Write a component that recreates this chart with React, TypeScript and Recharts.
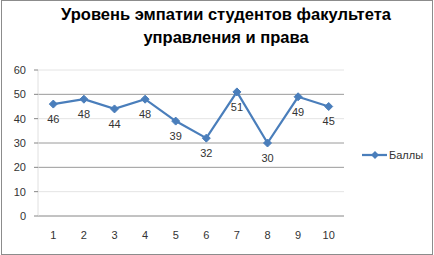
import { LineChart, Line, XAxis, YAxis, ReferenceLine, LabelList } from "recharts";

const categories = ["1", "2", "3", "4", "5", "6", "7", "8", "9", "10"];
const scores = [46, 48, 44, 48, 39, 32, 51, 30, 49, 45];
const yTicks = [0, 10, 20, 30, 40, 50, 60];
const seriesName = "Баллы";
const titleLines = ["Уровень эмпатии студентов факультета", "управления и права"];

// the darker grid lines in the picture
const darkLines = [20, 30, 50];

const data = categories.map((c, i) => ({ cat: c, idx: i + 0.5, value: scores[i] }));

const BLUE = "#4a7ebb";
const FONT = "'Liberation Sans', Arial, sans-serif";

function Diamond(props: any) {
  const { cx, cy } = props;
  if (cx == null || cy == null) return null;
  const r = 4;
  return (
    <path
      d={`M${cx},${cy - r} L${cx + r},${cy} L${cx},${cy + r} L${cx - r},${cy} Z`}
      fill={BLUE}
      stroke={BLUE}
    />
  );
}

export default function App() {
  return (
    <div
      style={{
        position: "fixed",
        left: 0,
        top: 0,
        width: 434,
        height: 255,
        background: "#fff",
        fontFamily: FONT,
      }}
    >
      <div
        style={{
          position: "absolute",
          left: 1,
          top: 0,
          width: 430,
          height: 253,
          border: "1px solid #8c8c8c",
        }}
      />
      <div
        style={{
          position: "absolute",
          left: 26,
          top: 3,
          width: 400,
          textAlign: "center",
          fontWeight: "bold",
          fontSize: 16.5,
          lineHeight: "23px",
          color: "#000",
        }}
      >
        {titleLines.map((t) => (
          <div key={t}>{t}</div>
        ))}
      </div>
      <div style={{ position: "absolute", left: 0, top: 0 }}>
        <LineChart
          width={434}
          height={255}
          data={data}
          margin={{ top: 70, right: 90, bottom: 9, left: 8 }}
        >
          {yTicks.slice(1).map((v) => (
            <ReferenceLine
              key={v}
              y={v}
              stroke={darkLines.includes(v) ? "#9a9a9a" : "#e4e4e4"}
              strokeWidth={1}
            />
          ))}
          <XAxis
            xAxisId="bounds"
            type="number"
            dataKey="idx"
            domain={[0, 10]}
            ticks={[0, 1, 2, 3, 4, 5, 6, 7, 8, 9, 10]}
            tick={false}
            tickSize={4}
            tickLine={{ stroke: "#868686" }}
            axisLine={false}
            height={0}
          />
          <XAxis
            dataKey="cat"
            scale="band"
            tickLine={false}
            tickSize={0}
            tickMargin={15}
            axisLine={{ stroke: "#868686" }}
            tick={{ fill: "#333", fontSize: 11, fontFamily: FONT }}
            interval={0}
            height={30}
          />
          <YAxis
            domain={[0, 60]}
            ticks={yTicks}
            width={30}
            tickSize={4}
            tickMargin={8}
            axisLine={{ stroke: "#e0e0e0" }}
            tickLine={{ stroke: "#868686" }}
            tick={{ fill: "#333", fontSize: 11, fontFamily: FONT }}
          />
          <Line
            dataKey="value"
            name={seriesName}
            stroke={BLUE}
            strokeWidth={2.25}
            dot={<Diamond />}
            activeDot={false}
            isAnimationActive={false}
          >
            <LabelList
              dataKey="value"
              position="bottom"
              offset={11}
              fill="#333"
              fontSize={11}
              fontFamily={FONT}
            />
          </Line>
        </LineChart>
      </div>
      <svg
        style={{ position: "absolute", left: 360, top: 148 }}
        width={30}
        height={14}
      >
        <line x1={2} y1={7} x2={27} y2={7} stroke={BLUE} strokeWidth={2.25} />
        <path d="M15,3 L19,7 L15,11 L11,7 Z" fill={BLUE} />
      </svg>
      <div
        style={{
          position: "absolute",
          left: 389,
          top: 148,
          fontSize: 11,
          color: "#333",
          lineHeight: "14px",
        }}
      >
        {seriesName}
      </div>
    </div>
  );
}
